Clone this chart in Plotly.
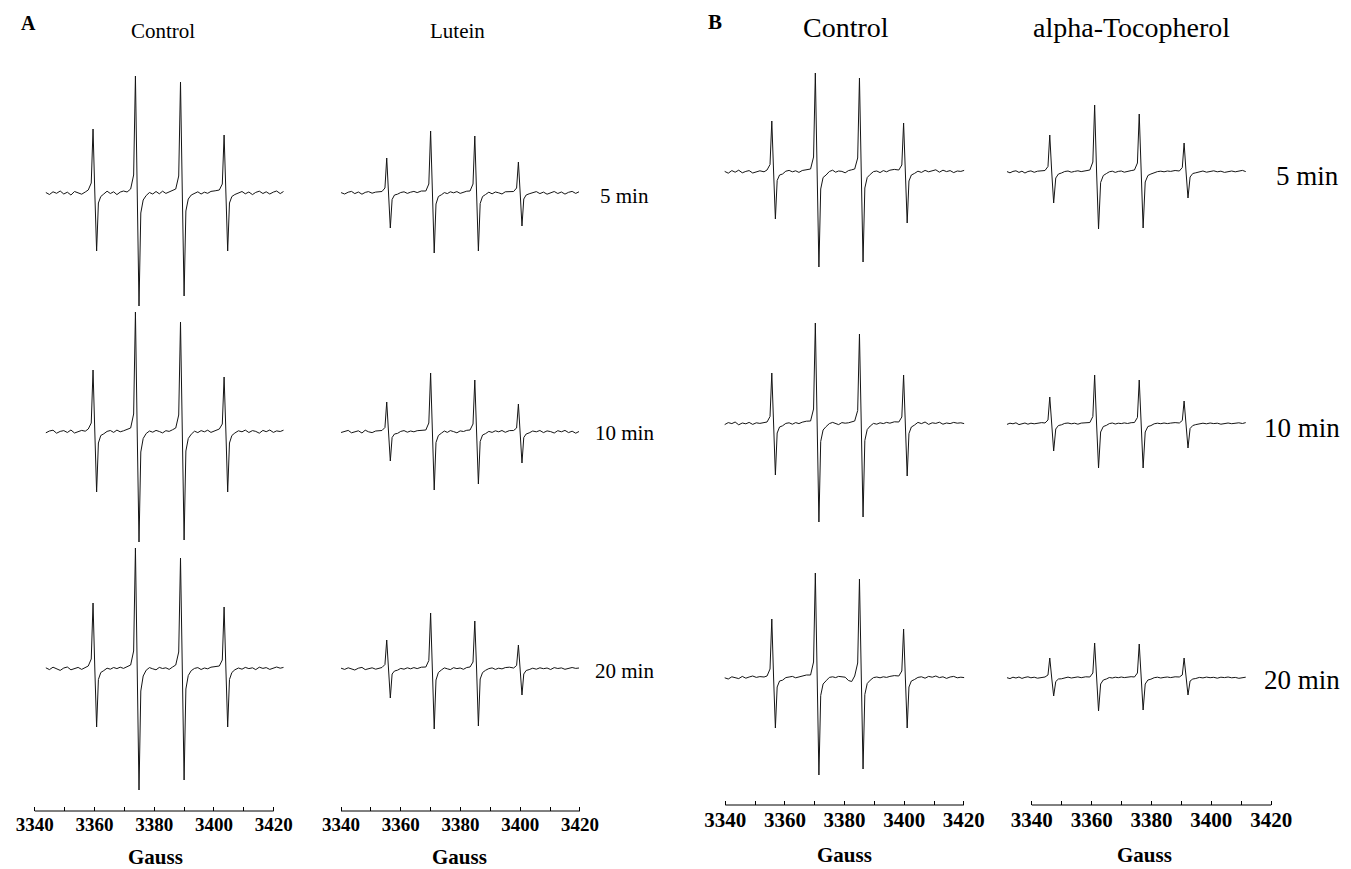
import plotly.graph_objects as go

W, H = 1351, 869          # browser window
OFF = 8                   # default page margin of the html body
FW, FH = W - OFF, H - OFF # figure size so that it exactly fills the window

# ---------------- field positions (Gauss), one sweep per column ----------------
X_A_CTRL = [3343.7, 3344.9, 3346.1, 3347.3, 3348.5, 3349.7, 3350.9, 3352.1, 3353.3, 3354.5, 3355.7, 3356.9,
            3357.9, 3358.9, 3359.5, 3360.1, 3360.7, 3361.3, 3362.1,
            3363.1, 3364.2, 3365.3, 3366.4, 3367.5, 3368.6, 3369.7, 3370.9,
            3372.1, 3373.1, 3373.7, 3374.3, 3374.9, 3375.5, 3376.3,
            3377.3, 3378.4, 3379.5, 3380.6, 3381.7, 3382.8, 3383.9, 3385.0, 3386.1,
            3387.2, 3388.2, 3388.8, 3389.4, 3390.0, 3390.6, 3391.4,
            3392.4, 3393.5, 3394.6, 3395.7, 3396.8, 3397.9, 3399.0, 3400.4,
            3401.8, 3402.8, 3403.4, 3404.0, 3404.6, 3405.2, 3406.0,
            3407.0, 3408.2, 3409.4, 3410.5, 3411.7, 3412.9, 3414.0, 3415.2, 3416.4, 3417.5, 3418.7, 3419.9, 3421.0, 3422.2, 3423.3]

X_A_LUT = [3340.0, 3341.2, 3342.4, 3343.5, 3344.6, 3345.8, 3347.0, 3348.1, 3349.2, 3350.4, 3351.6, 3352.7,
           3353.7, 3354.7, 3355.3, 3355.9, 3356.5, 3357.1, 3357.9,
           3358.9, 3360.0, 3361.1, 3362.2, 3363.3, 3364.4, 3365.5, 3366.9,
           3368.4, 3369.4, 3370.0, 3370.6, 3371.2, 3371.8, 3372.6,
           3373.6, 3374.6, 3375.6, 3376.6, 3377.7, 3378.8, 3379.9, 3381.0, 3382.1,
           3383.2, 3384.2, 3384.8, 3385.4, 3386.0, 3386.6, 3387.4,
           3388.4, 3389.5, 3390.6, 3391.7, 3392.8, 3393.9, 3395.0, 3396.4,
           3397.8, 3398.8, 3399.4, 3400.0, 3400.6, 3401.2, 3402.0,
           3403.0, 3404.2, 3405.4, 3406.6, 3407.8, 3409.0, 3410.2, 3411.4, 3412.6, 3413.8, 3415.0, 3416.2, 3417.4, 3418.6, 3419.7]

X_B_CTRL = [3339.8, 3341.0, 3342.2, 3343.3, 3344.5, 3345.7, 3346.9, 3348.0, 3349.2, 3350.4, 3351.6, 3353.0,
            3354.0, 3355.0, 3355.6, 3356.2, 3356.8, 3357.4, 3358.2,
            3359.2, 3360.3, 3361.4, 3362.5, 3363.6, 3364.7, 3365.8, 3367.2,
            3368.6, 3369.6, 3370.2, 3370.8, 3371.4, 3372.0, 3372.8,
            3373.8, 3374.9, 3376.0, 3377.0, 3378.0, 3379.1, 3380.2, 3381.3, 3382.4,
            3383.4, 3384.4, 3385.0, 3385.6, 3386.2, 3386.8, 3387.6,
            3388.6, 3389.7, 3390.8, 3391.9, 3393.0, 3394.1, 3395.2, 3396.7,
            3398.2, 3399.2, 3399.8, 3400.4, 3401.0, 3401.6, 3402.4,
            3403.4, 3404.6, 3405.8, 3407.0, 3408.2, 3409.4, 3410.6, 3411.8, 3413.0, 3414.2, 3415.4, 3416.6, 3417.8, 3419.0, 3420.1]

X_B_TOC = [3331.7, 3332.7, 3333.7, 3334.7, 3335.7, 3336.7, 3337.7, 3338.7, 3339.7, 3340.8, 3341.9, 3343.3,
           3344.4, 3345.4, 3346.0, 3346.65, 3347.3, 3348.0, 3348.9,
           3349.9, 3351.0, 3352.1, 3353.2, 3354.3, 3355.4, 3356.5, 3358.0,
           3359.4, 3360.4, 3361.0, 3361.65, 3362.3, 3363.0, 3363.9,
           3364.9, 3365.9, 3366.9, 3367.9, 3368.9, 3369.9, 3370.9, 3372.0, 3373.2,
           3374.3, 3375.3, 3375.9, 3376.55, 3377.2, 3377.9, 3378.8,
           3379.8, 3380.9, 3382.0, 3383.1, 3384.2, 3385.3, 3386.4, 3387.9,
           3389.3, 3390.3, 3390.9, 3391.55, 3392.2, 3392.9, 3393.8,
           3394.8, 3396.0, 3397.2, 3398.4, 3399.6, 3400.8, 3402.0, 3403.2, 3404.4, 3405.6, 3406.8, 3408.0, 3409.2, 3410.4, 3411.5]

# ---------------- signal intensities (arbitrary units, relative to baseline) ----------------
A_CTRL_5 = [0.5, -1.5, 1.2, -0.3, 2.0, -1.0, 0.8, -2.0, 1.5, 0.2, -1.2, 1.0,
            3, 10, 64, 0, -58, -10, -3.5,
            -1.0, 1.8, -0.5, 1.2, -1.6, 0.9, 2.0, 1.0,
            4, 18, 117, 0, -113, -20, -7,
            -2.5, 0.5, -1.0, 1.5, -0.8, 1.8, -0.4, 1.2, 2.0,
            4, 17, 111, 0, -103, -18, -6,
            -2.0, -0.5, 1.2, -1.0, 0.8, -0.3, 1.6, 2.2,
            3, 9, 58, 0, -58, -10, -3.5,
            -1.5, 0.3, 1.5, -0.8, 1.0, -1.6, 0.6, 1.8, -0.5, 1.2, -1.0, 0.9, 2.0, -0.6, 1.5]
A_CTRL_10 = [-0.8, 1.0, 1.8, -1.2, 0.6, 1.4, -0.5, 2.0, -1.0, 0.4, 1.6, 0.8,
             3, 9, 62, 0, -60, -11, -3.5,
             -1.8, 0.6, 1.5, -0.4, 1.9, 0.2, 1.2, 2.4,
             4, 18, 120, 0, -110, -20, -6.5,
             -1.5, 1.0, -0.2, 1.6, 0.5, -0.9, 1.3, 0.6, 2.2,
             4, 17, 110, 0, -108, -19, -6.5,
             -2.2, 0.8, -0.6, 1.4, 0.2, 1.8, -0.4, 1.6,
             3, 8, 55, 0, -60, -11, -3.5,
             -1.0, 1.2, 0.2, 1.9, -0.5, 1.4, 0.6, -1.2, 1.6, 0.3, 2.0, -0.4, 1.1, 0.5, 1.8]
A_CTRL_20 = [1.2, -0.6, 1.8, 0.2, -1.4, 1.0, 2.0, -0.8, 0.8, 1.6, -0.4, 1.2,
             3, 10, 66, 0, -58, -10.5, -3.5,
             -1.6, 0.8, -0.2, 1.5, 0.4, 1.8, 0.6, 2.2,
             4, 18, 121, 0, -121, -22, -7,
             -1.2, 1.4, 0.2, -0.8, 1.6, 0.5, 1.2, -0.4, 1.9,
             4, 17, 111, 0, -111, -20, -6.5,
             -1.6, 0.6, 1.4, -0.5, 1.0, 0.2, 1.8, 2.4,
             3, 9, 62, 0, -58, -10.5, -3.5,
             -0.8, 1.0, -0.2, 1.6, 0.4, 1.2, -0.6, 1.8, 0.6, 1.4, -0.4, 1.0, 2.0, 0.8, 1.6]

LUT_5 = [0.4, -1.0, 0.8, 1.6, -0.6, 1.0, -1.2, 0.6, 1.4, -0.2, 0.9, 1.5,
         1.5, 5, 35, 0, -35, -6.5, -2,
         -1.2, 0.5, 1.2, -0.4, 0.8, 1.6, 0.4, 2.0,
         2, 9, 62, 0, -60, -11, -3.5,
         -1.8, 0.4, -0.6, 1.2, 0.2, 1.4, -0.4, 1.0, 1.8,
         2, 9, 57, 0, -58, -10.5, -3.5,
         -1.5, 0.8, -0.8, 1.0, 0.2, -1.0, 1.2, 1.6,
         1.5, 5, 31, 0, -33, -6, -2,
         -0.8, 0.6, 1.4, -0.6, 0.9, -1.2, 0.4, 1.5, -0.5, 1.0, -1.1, 0.7, 1.6, -0.4, 1.2]
LUT_10 = [-0.5, 0.9, 1.6, -0.8, 0.4, 1.2, -1.0, 1.8, 0.2, -0.6, 1.0, 1.4,
          1.5, 4.5, 30, 0, -29, -5.5, -2,
          -1.4, 0.6, 1.4, -0.2, 1.0, 0.2, 1.3, 1.9,
          2, 9, 59, 0, -58, -10.5, -3.5,
          -1.2, 1.0, -0.4, 1.4, 0.4, -0.8, 1.1, 0.5, 1.7,
          2, 8, 52, 0, -52, -9.5, -3,
          -1.6, 0.6, -0.4, 1.2, 0.2, 1.5, -0.3, 1.4,
          1.5, 4, 28, 0, -31, -5.5, -2,
          -0.9, 1.0, 0.2, 1.5, -0.6, 1.1, 0.4, -1.0, 1.3, 0.2, 1.6, -0.6, 0.8, -1.2, 0.5]
LUT_20 = [0.8, -0.4, 1.2, 0.0, -1.0, 0.8, 1.6, -0.6, 0.6, 1.2, -0.2, 0.9,
          1.5, 4.5, 29, 0, -29, -5, -2,
          -1.2, 0.6, -0.2, 1.2, 0.2, 1.4, 0.4, 1.8,
          2, 8.5, 56, 0, -60, -11, -3.5,
          -1.0, 1.1, 0.2, -0.6, 1.3, 0.4, 1.0, -0.3, 1.5,
          2, 7, 48, 0, -57, -10, -3.5,
          -1.3, 0.4, 1.1, -0.4, 0.8, 0.1, 1.4, 1.8,
          1, 3.5, 24, 0, -26, -5, -1.5,
          -0.6, 0.8, -0.2, 1.2, 0.3, 1.0, -0.5, 1.4, 0.5, 1.1, -0.3, 0.8, 1.5, 0.6, 1.0]

B_CTRL_5 = [0.6, -1.2, 1.4, -0.2, 1.8, -0.8, 0.6, 1.4, -1.0, 0.4, 1.2, 0.2,
            2, 7.5, 51, 0, -47, -8.5, -3,
            -2.0, 0.8, 1.6, 0.2, 1.2, -0.4, 1.5, 2.5,
            3, 15, 99, 0, -95, -17, -5.5,
            -3.0, 0.5, 1.8, -0.2, 1.0, 0.6, -0.8, 1.4, 2.2,
            3, 14, 94, 0, -90, -16, -5.5,
            -2.4, 0.4, 1.0, -0.6, 1.4, 0.2, 1.8, 2.6,
            2, 7, 49, 0, -51, -9, -3,
            -1.5, 0.8, -0.4, 1.6, 0.2, 1.2, 2.2, -0.2, 1.8, 0.4, 1.4, -0.6, 1.0, 0.6, 1.6]
B_CTRL_10 = [-0.6, 1.4, 0.4, 2.0, -0.8, 1.0, 0.2, 1.6, -0.4, 1.2, 0.6, 1.0,
             2, 7.5, 51, 0, -51, -9, -3,
             -1.8, 0.6, 1.2, -0.2, 1.4, 0.4, 1.8, 2.8,
             3, 15, 101, 0, -98, -17.5, -6,
             -2.6, 0.4, 1.6, 0.2, -0.6, 1.4, 0.8, 1.2, 2.0,
             3, 13.5, 90, 0, -93, -16.5, -5.5,
             -2.0, 0.6, -0.2, 1.2, 0.4, 1.6, 0.8, 2.2,
             2, 7, 49, 0, -52, -9.5, -3,
             -1.2, 1.6, 0.4, 2.0, -0.4, 1.2, 0.6, 1.8, -0.2, 1.0, 0.4, 1.6, 0.8, 1.2, 0.4]
B_CTRL_20 = [0.2, -1.0, 1.2, 0.4, -0.6, 1.6, -0.2, 1.0, 2.0, 0.6, 1.4, 1.0,
             2, 9, 59, 0, -50, -9, -3,
             -2.2, 0.4, 1.0, 1.6, 0.2, 1.2, 2.0, 3.0,
             3, 16, 105, 0, -97, -17.5, -6,
             -2.8, 0.6, 1.2, 0.4, 1.6, 1.0, 0.8, -2.5, -3.5,
             2, 15, 99, 0, -91, -16.5, -5.5,
             -2.2, 0.4, 1.0, 0.2, 1.2, 0.6, 1.6, 2.4,
             2, 7, 49, 0, -50, -9, -3,
             -1.6, 0.6, 1.2, -0.2, 1.6, 0.8, 2.0, 0.4, 1.2, -0.4, 1.0, 1.6, 0.2, 0.8, 0.4]

TOC_5 = [0.4, -0.8, 0.6, 1.2, -0.4, 0.8, -1.0, 0.5, 1.1, -0.3, 0.8, 1.6,
         1.5, 5.5, 37, 0, -31, -6, -2,
         -1.0, 0.5, 1.0, -0.2, 0.6, 1.2, 0.4, 1.6,
         2, 10, 67, 0, -57, -10.5, -3.5,
         -1.6, 0.2, 0.8, -0.4, 0.6, 1.0, -0.2, 0.8, 1.4,
         2, 9, 58, 0, -56, -10, -3.5,
         -2.0, -0.6, 0.4, 0.8, 0.2, 1.0, 0.6, 1.5,
         1, 4.5, 29, 0, -26, -5, -1.5,
         -0.8, 0.4, 1.0, -0.2, 0.6, 1.2, 0.2, 0.8, -0.4, 0.6, 1.0, 0.2, 0.8, 1.6, 0.4]
TOC_10 = [-0.4, 0.8, 0.2, 1.2, -0.6, 0.6, 1.0, -0.2, 0.8, 0.2, 1.0, 1.4,
          1, 4, 27, 0, -27, -5, -1.5,
          -0.8, 0.6, 1.0, 0.2, 0.8, -0.2, 0.9, 1.5,
          1.5, 7.5, 49, 0, -44, -8, -2.5,
          -1.4, 0.4, 1.0, 0.0, 0.8, 0.4, 1.1, 0.5, 1.3,
          1.5, 6.5, 44, 0, -44, -8, -2.5,
          -1.6, 0.2, 0.8, 0.3, 1.0, 0.4, 0.9, 1.4,
          1, 3.5, 23, 0, -24, -4.5, -1.5,
          -0.6, 0.4, 0.8, 0.2, 1.0, 0.4, 0.8, -0.2, 0.6, 1.0, 0.3, 0.7, 1.2, 0.5, 1.4]
TOC_20 = [0.3, -0.6, 0.8, 0.0, 1.0, -0.4, 0.6, 1.2, 0.2, 0.8, -0.2, 0.9,
          1, 3, 20, 0, -18, -3.5, -1,
          -0.8, 0.4, 0.9, 0.0, 0.7, 1.1, 0.3, 1.2,
          1, 5, 35, 0, -33, -6, -2,
          -1.0, 0.5, 0.0, 0.8, 0.3, 1.0, 0.4, 0.9, 1.3,
          1, 5, 34, 0, -32, -6, -2,
          -1.2, 0.3, 0.8, 0.0, 0.6, 1.0, 0.4, 1.2,
          1, 3, 20, 0, -17, -3, -1,
          -0.5, 0.6, 0.1, 0.9, 0.3, 0.7, -0.2, 0.8, 0.4, 1.0, 0.2, 0.6, -0.3, 0.5, 0.8]

TICK_VALS = [3340, 3360, 3380, 3400, 3420]
MINOR_VALS = [3350, 3370, 3390, 3410]
TIME_LABELS = ["5 min", "10 min", "20 min"]

# ---------------- layout (pixel geometry of the original figure, window coords) ----------------
FONT = "Liberation Serif"
PANELS = {
    "A": dict(bottom=811, top=40, offsets=[618, 379, 142], tickfs=19, ticks="inside"),
    "B": dict(bottom=805, top=40, offsets=[633, 381, 127], tickfs=21, ticks="inside"),
}
COLUMNS = [
    dict(x=X_A_CTRL, ys=[A_CTRL_5, A_CTRL_10, A_CTRL_20], panel="A", px0=29.0, px1=270.0, lo=3335, hi=3428),
    dict(x=X_A_LUT, ys=[LUT_5, LUT_10, LUT_20], panel="A", px0=338.0, px1=579.0, lo=3335, hi=3428),
    dict(x=X_B_CTRL, ys=[B_CTRL_5, B_CTRL_10, B_CTRL_20], panel="B", px0=725.7, px1=966.4, lo=3335, hi=3428),
    dict(x=X_B_TOC, ys=[TOC_5, TOC_10, TOC_20], panel="B", px0=1035.0, px1=1276.5, lo=3328, hi=3425),
]


def px2x(px):
    return (px - OFF) / FW


def py2y(py):
    return 1 - (py - OFF) / FH


fig = go.Figure()
layout = dict(width=FW, height=FH, margin=dict(l=0, r=0, t=0, b=0), autosize=False,
              paper_bgcolor="white", plot_bgcolor="white", showlegend=False)
shapes = []

for i, col in enumerate(COLUMNS):
    sfx = "" if i == 0 else str(i + 1)
    p = PANELS[col["panel"]]
    s = (col["px1"] - col["px0"]) / 80.0
    left = col["px0"] - (3340 - col["lo"]) * s
    right = col["px1"] + (col["hi"] - 3420) * s
    layout["xaxis" + sfx] = dict(
        domain=[px2x(left), px2x(right)], range=[col["lo"], col["hi"]], anchor="y" + sfx,
        showline=False, showgrid=False, zeroline=False,
        tickmode="array", tickvals=TICK_VALS, ticktext=[str(v) for v in TICK_VALS],
        ticks=p["ticks"], ticklen=4, tickwidth=1, tickcolor="black",
        tickfont=dict(family=FONT, size=p["tickfs"], color="black", weight="bold"),
        minor=dict(tickmode="array", tickvals=MINOR_VALS, ticks=p["ticks"], ticklen=4,
                   tickwidth=1, tickcolor="black", showgrid=False),
        fixedrange=True,
    )
    layout["yaxis" + sfx] = dict(domain=[py2y(p["bottom"]), py2y(p["top"])],
                                 range=[0, p["bottom"] - p["top"]],
                                 anchor="x" + sfx, visible=False, fixedrange=True)
    span = col["hi"] - col["lo"]
    shapes.append(dict(type="line", xref="x%s domain" % sfx, yref="y%s domain" % sfx,
                       x0=(3340 - col["lo"]) / span, x1=(3420 - col["lo"]) / span, y0=0, y1=0,
                       line=dict(color="black", width=1)))
    for off, yv in zip(p["offsets"], col["ys"]):
        assert len(yv) == len(col["x"]), (i, len(yv), len(col["x"]))
        fig.add_trace(go.Scatter(x=col["x"], y=[off + v for v in yv], mode="lines",
                                 line=dict(color="#151515", width=1),
                                 xaxis="x" + sfx, yaxis="y" + sfx, hoverinfo="skip"))


def ann(text, x, y, size, bold=False):
    return dict(text=text, x=px2x(x), y=py2y(y), xref="paper", yref="paper",
                showarrow=False, xanchor="center", yanchor="middle",
                font=dict(family=FONT, size=size, color="black", weight="bold" if bold else "normal"))


annotations = [
    ann("A", 22.7, 23, 20, True),
    ann("Control", 158, 30.5, 21),
    ann("Lutein", 455, 30.5, 21),
    ann("B", 715, 22, 21, True),
    ann("Control", 848, 27, 28),
    ann("alpha-Tocopherol", 1136, 27, 28),
    ann("Gauss", 151, 857, 21, True),
    ann("Gauss", 458, 857, 21, True),
    ann("Gauss", 846, 855, 21, True),
    ann("Gauss", 1149, 855, 21, True),
]
for lab, yy in zip(TIME_LABELS, [195.7, 432.5, 671]):
    annotations.append(ann(lab, 624, yy, 21))
for lab, xx, yy in zip(TIME_LABELS, [1313, 1308, 1308], [175.7, 428, 679.8]):
    annotations.append(ann(lab, xx, yy, 27))

layout["shapes"] = shapes
layout["annotations"] = annotations
fig.update_layout(**layout)
fig.write_html("out.html")
